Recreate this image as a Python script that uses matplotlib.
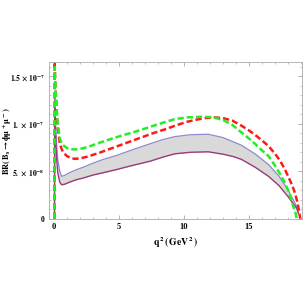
import matplotlib
matplotlib.use('Agg')
import matplotlib.pyplot as plt
from matplotlib.ticker import MultipleLocator, FixedLocator

plt.rcParams['mathtext.fontset'] = 'stix'
plt.rcParams['font.family'] = 'Liberation Serif'

# q^2 in GeV^2, BR in units of 1e-8
q2_red = [0.045, 0.06, 0.1, 0.2, 0.3, 0.46, 0.7, 1.0, 1.3, 1.6, 2.0, 2.6, 3.5, 4.5, 5.5,
          6.5, 7.5, 8.5, 9.3, 10.2, 11.0, 11.7, 12.38, 13.0, 13.7, 14.44, 15.0, 15.5,
          16.0, 16.5, 17.0, 17.4, 17.77, 18.1, 18.3, 18.54, 18.75, 18.92, 18.95]
br_red = [0.0, 16.5, 14.5, 11.5, 9.5, 7.84, 7.0, 6.6, 6.4, 6.31, 6.35, 6.55, 6.95, 7.45,
          7.95, 8.45, 8.95, 9.4, 9.79, 10.2, 10.45, 10.62, 10.67, 10.6, 10.35, 9.79, 9.3,
          8.8, 8.25, 7.66, 6.85, 6.1, 5.18, 4.2, 3.6, 2.7, 1.6, 0.2, 0.0]

q2_green = [0.045, 0.06, 0.1, 0.2, 0.3, 0.46, 0.7, 1.0, 1.3, 1.6, 2.0, 2.6, 3.5, 4.5, 5.3,
            6.1, 7.0, 8.0, 9.3, 10.3, 11.36, 12.2, 13.0, 13.7, 14.44, 15.0, 15.5, 16.0,
            16.5, 17.0, 17.4, 17.77, 18.1, 18.41, 18.6, 18.67]
br_green = [0.0, 16.0, 14.3, 12.0, 10.0, 8.37, 7.75, 7.45, 7.32, 7.3, 7.35, 7.55, 8.0,
            8.45, 8.8, 9.1, 9.5, 9.95, 10.5, 10.68, 10.74, 10.7, 10.4, 9.9, 9.07, 8.45,
            7.85, 7.2, 6.6, 5.6, 4.7, 3.76, 2.7, 1.28, 0.5, 0.0]

q2_band = [0.045, 0.06, 0.1, 0.2, 0.3, 0.45, 0.59, 0.8, 1.2, 1.7, 2.26, 3.0, 3.8, 4.82,
           6.0, 7.4, 8.4, 9.3, 10.5, 11.87, 13.0, 13.8, 14.44, 15.5, 16.5, 17.3, 18.0,
           18.4, 18.67, 18.8]
br_upper = [0.0, 13.0, 11.0, 8.0, 6.2, 5.0, 4.47, 4.55, 4.85, 5.15, 5.43, 5.85, 6.25,
            6.67, 7.25, 7.9, 8.35, 8.65, 8.85, 8.9, 8.55, 8.1, 7.73, 6.8, 5.71, 4.5, 3.05,
            2.0, 1.28, 0.56]
br_lower = [0.0, 12.0, 9.5, 6.5, 4.8, 3.85, 3.58, 3.62, 3.85, 4.1, 4.29, 4.6, 4.85, 5.18,
            5.6, 6.06, 6.5, 6.84, 7.0, 7.05, 6.8, 6.55, 6.24, 5.4, 4.47, 3.5, 2.34, 1.6,
            1.1, 0.56]

y_ticks = [0, 5, 10, 15]
y_labels = ['0', r'$\mathbf{5.\,\times\,10^{-8}}$', r'$\mathbf{1.\,\times\,10^{-7}}$',
            r'$\mathbf{1.5\,\times\,10^{-7}}$']
x_ticks = [0, 5, 10, 15]

fig = plt.figure(figsize=(3.06, 3.06), dpi=100)
ax = fig.add_axes([0.16, 0.284, 0.827, 0.513])

ax.fill_between(q2_band, br_lower, br_upper, color='#d9d9d9', lw=0)
ax.plot(q2_band, br_upper, color='#8c8cc8', lw=0.9)
ax.plot(q2_band, br_lower, color='#993a7a', lw=1.0)
ax.plot(q2_red, br_red, color='#ff1a1a', lw=1.8, ls=(0, (2.5, 1.2)))
ax.plot(q2_green, br_green, color='#22ee22', lw=1.8, ls=(0, (2.5, 1.2)))

ax.set_xlim(-0.38, 19.08)
ax.set_ylim(-0.04, 16.5)
ax.xaxis.set_major_locator(FixedLocator(x_ticks))
ax.xaxis.set_minor_locator(MultipleLocator(1))
ax.set_yticks(y_ticks)
ax.set_yticklabels(y_labels)
ax.yaxis.set_minor_locator(MultipleLocator(1))
ax.tick_params(which='both', direction='in', top=True, right=True, color='#999999')
ax.tick_params(which='major', length=3, width=0.5, labelsize=5.5, pad=3)
ax.tick_params(axis='x', which='major', labelsize=6)
ax.tick_params(which='minor', length=1.5, width=0.4)
for lab in ax.get_xticklabels() + ax.get_yticklabels():
    lab.set_fontweight('bold')
for s in ax.spines.values():
    s.set_color('#aaaaaa')
    s.set_linewidth(0.6)

ax.set_xlabel(r'$\mathbf{q^{\,2}\,(\,GeV^2\,)}$', fontsize=7, labelpad=3)
ax.set_ylabel(r'$\mathbf{BR(\,B_s\rightarrow\phi\mu^+\mu^-)}$', fontsize=6)
ax.yaxis.set_label_coords(-0.14, 0.5)

fig.savefig('out.png', dpi=100)
